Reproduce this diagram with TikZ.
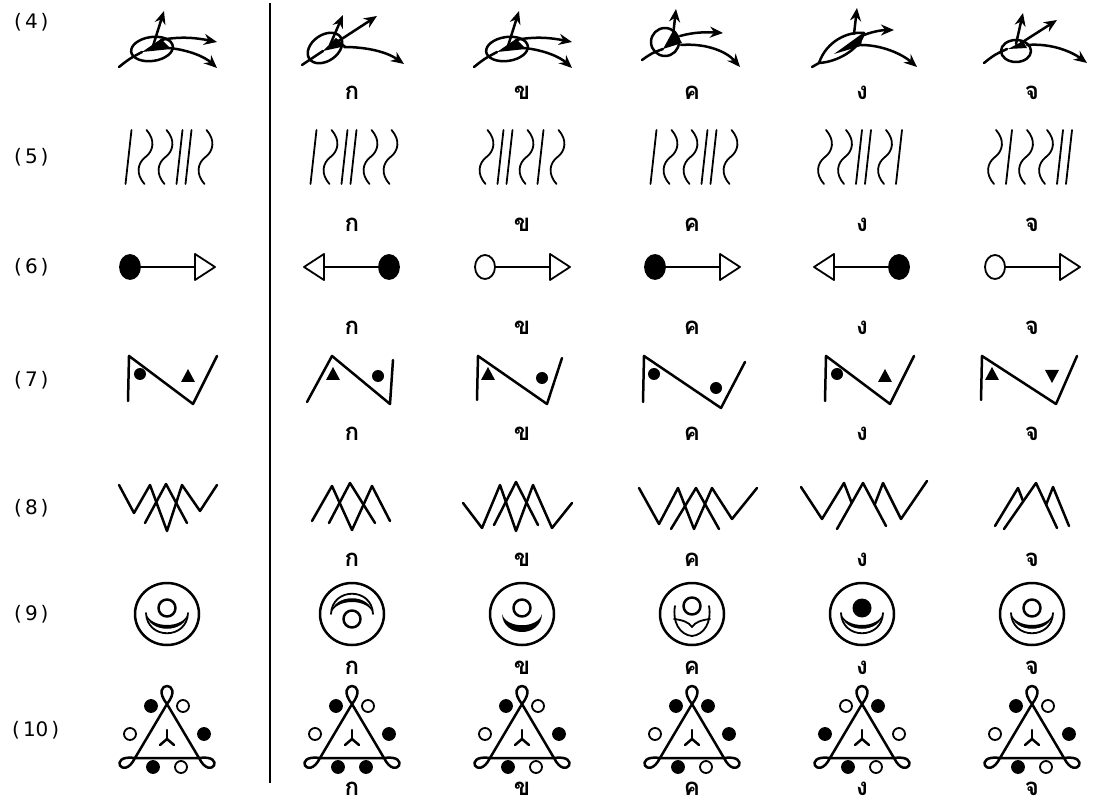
\documentclass[tikz,border=0pt]{standalone}
\usepackage{fontspec}
\usetikzlibrary{arrows.meta}
\newfontfamily\thaifont[Script=Thai]{Loma}
\newfontfamily\numfont{DejaVu Sans}
\tikzset{
  ln/.style={line width=2.5pt,line cap=round,line join=round},
  thn/.style={line width=1.8pt,line cap=round,line join=round},
  arr/.style={ln,-{Stealth[length=13pt,width=11pt]}},
  thailbl/.style={font=\thaifont\bfseries\fontsize{24}{24}\selectfont,inner sep=0pt},
  rowlbl/.style={font=\numfont\fontsize{20}{20}\selectfont,inner sep=0pt,anchor=west},
  % ---------- row 4
  r4base/.pic={
    \fill (-25,-12) -- (-6,1) -- (4,-9) -- cycle;
    \draw[ln] (-48,-27) .. controls (-38,-19) .. (-25,-12);
    \draw[ln,rotate around={8:(-15,-9)}] (-15,-9) ellipse [x radius=21,y radius=12];
    \draw[arr] (-14,-6) -- (-3,29);
    \draw[arr] (-6,0) .. controls (14,4) and (30,2) .. (50,-2);
    \draw[arr] (2,-8) .. controls (22,-10) and (38,-17) .. (50,-28);
  },
  r4ka/.pic={
    \fill (-29,-11) -- (-16,2) -- (-6,-6) -- cycle;
    \draw[ln] (-50,-25) .. controls (-40,-18) .. (-29,-11);
    \draw[ln,rotate around={35:(-27,-8)}] (-27,-8) ellipse [x radius=19,y radius=13];
    \draw[arr] (-22,-5) -- (-9,25);
    \draw[arr] (-18,-4) -- (25,24);
    \draw[arr] (-8,-7) .. controls (15,-7) and (35,-12) .. (52,-24);
  },
  r4kho/.pic={
    \fill (-29,-9) -- (-18,11) -- (-10,-3) -- cycle;
    \draw[ln] (-50,-20) .. controls (-40,-13) .. (-29,-9);
    \draw[ln] (-27,-2) circle (14);
    \draw[arr] (-19,4) -- (-16,31);
    \draw[arr] (-12,4) .. controls (2,8) and (15,8) .. (31,7);
    \draw[arr] (-11,-5) .. controls (15,-3) and (35,-12) .. (48,-27);
  },
  r4ngo/.pic={
    \fill (-28,-14) -- (1,7) -- (-1,-6) -- cycle;
    \draw[ln] (-50,-27) -- (-43,-23);
    \draw[ln] (-43,-23) .. controls (-36,-2) and (-15,9) .. (2,7) .. controls (-3,-10) and (-25,-22) .. (-43,-23);
    \draw[arr] (-8,6) -- (-5,32);
    \draw[arr] (2,5) .. controls (12,9) and (22,10) .. (32,10);
    \draw[arr] (-1,-5) .. controls (20,-5) and (40,-14) .. (55,-27);
  },
  r4cho/.pic={
    \fill (-24,-9) -- (-9,-1) -- (-5,-8) -- cycle;
    \draw[ln] (-48,-23) .. controls (-38,-15) .. (-25,-9);
    \draw[ln] (-16,-11) ellipse [x radius=15,y radius=11];
    \draw[arr] (-16,-4) -- (-9,27);
    \draw[arr] (-11,-3) -- (25,20);
    \draw[arr] (-5,-5) .. controls (20,-3) and (40,-12) .. (55,-23);
  },
  % ---------- row 5 strokes
  sL/.pic={\draw[thn] (-3,-27) -- (3,27);},
  sS/.pic={\draw[thn] (1,27) .. controls (10,17) and (8,6) .. (0,0) .. controls (-8,-6) and (-10,-17) .. (-1,-27);},
  % ---------- row 6
  r6f/.pic={
    \draw[thn] (-27,0) -- (28,0);
    \filldraw[thn] (-37,0) ellipse [x radius=10,y radius=12];
    \draw[thn,fill=white] (28,-13) -- (48,0) -- (28,13) -- cycle;
  },
  r6o/.pic={
    \draw[thn] (-27,0) -- (28,0);
    \draw[thn,fill=white] (-37,0) ellipse [x radius=10,y radius=12];
    \draw[thn,fill=white] (28,-13) -- (48,0) -- (28,13) -- cycle;
  },
  % ---------- row 7
  tri/.pic={\fill (-7,-6) -- (7,-6) -- (0,7) -- cycle;},
  r7base/.pic={
    \draw[ln] (-44,-21) -- (-43,24) -- (21,-24) -- (45,24);
    \fill (-32,6) circle (6);
    \pic at (16,4) {tri};
  },
  r7ka/.pic={
    \draw[ln] (-45,-22) -- (-20,24) -- (38,-24) -- (41,20);
    \pic at (-19,6) {tri};
    \fill (26,4) circle (6);
  },
  r7kho/.pic={
    \draw[ln] (-45,-20) -- (-44,24) -- (25,-24) -- (40,22);
    \pic at (-34,6) {tri};
    \fill (20,2) circle (6);
  },
  r7khoo/.pic={
    \draw[ln] (-51,-22) -- (-50,24) -- (27,-28) -- (51,18);
    \fill (-40,6) circle (6);
    \fill (22,-8) circle (6);
  },
  r7cho/.pic={
    \draw[ln] (-48,-20) -- (-47,24) -- (27,-24) -- (48,24);
    \pic at (-37,6) {tri};
    \pic[yscale=-1] at (23,4) {tri};
  },
  % ---------- row 8 (zigzags)
  r8base/.pic={
    \draw[ln] (-48,23) -- (-33,-5) -- (-17,23) -- (0,-23) -- (15,23) -- (33,-3) -- (50,23);
    \draw[ln] (-22,-15) -- (-1,24) -- (20,-15);
  },
  r8ka/.pic={
    \draw[ln] (-40,-13) -- (-20,22) -- (0,-22) -- (20,22) -- (38,-13);
    \draw[ln] (-23,-15) -- (-2,25) -- (23,-15);
  },
  r8kho/.pic={
    \draw[ln] (-55,5) -- (-36,-20) -- (-18,23) -- (-2,-23) -- (15,23) -- (34,-20) -- (54,5);
    \draw[ln] (-24,-17) -- (-2,26) -- (20,-17);
  },
  r8khoo/.pic={
    \draw[ln] (-59,20) -- (-39,-16) -- (-20,20) -- (-4,-21) -- (14,20) -- (34,-11) -- (59,20);
    \draw[ln] (-27,-21) -- (-2,20) -- (21,-21);
  },
  r8ngo/.pic={
    \draw[ln] (-63,21) -- (-42,-11) -- (-20,25) -- (-12.3,5);
    \draw[ln] (10.6,3.3) -- (19,25) -- (37,-11) -- (63,27);
    \draw[ln] (-27,-21) -- (-1,25) -- (22,-18);
  },
  r8cho/.pic={
    \draw[ln] (-37,-18) -- (-14,20) -- (-8.8,6.6);
    \draw[ln] (14.1,3.3) -- (21,21) -- (37,-18);
    \draw[ln] (-28,-21) -- (4,25) -- (25,-20);
  },
  % ---------- row 9
  r9out/.pic={\draw[ln] (0,0) ellipse [x radius=32,y radius=31];},
  cresD/.pic={
    \fill (-21,-1) .. controls (-19,-22) and (19,-22) .. (21,-1) .. controls (17,-17) and (-17,-17) .. (-21,-1) -- cycle;
    \draw[thn] (-21,-1) .. controls (-20,-28) and (20,-28) .. (21,-1);
  },
  cresF/.pic={
    \fill (-20,-2) .. controls (-19,-26) and (19,-26) .. (20,-2) .. controls (16,-17) and (-16,-17) .. (-20,-2) -- cycle;
  },
  % ---------- row 10
  pics/r10/.style n args={6}{code={
    \draw[ln] (0,26) .. controls (19,50) and (-19,50) .. (0,26)
      -- (32,-28) .. controls (44,-52) and (60,-24) .. (32,-28)
      -- (-32,-28) .. controls (-60,-24) and (-44,-52) .. (-32,-28) -- cycle;
    \draw[ln] (0,-9) -- (0,0);
    \draw[ln] (0,-9) -- (-7,-15);
    \draw[ln] (0,-9) -- (7,-15);
    \draw[thn,fill=#1] (-16,24) circle (6);
    \draw[thn,fill=#2] (16,24) circle (6);
    \draw[thn,fill=#3] (-37,-4) circle (6);
    \draw[thn,fill=#4] (37,-4) circle (6);
    \draw[thn,fill=#5] (-14,-37) circle (6);
    \draw[thn,fill=#6] (14,-37) circle (6);
  }},
}
\begin{document}
\begin{tikzpicture}[x=1pt,y=1pt]
\useasboundingbox (0,0) rectangle (1098,807);
% divider
\coordinate (divtop) at (270,804);
\coordinate (divbot) at (270,24);
\draw[line width=1.5pt] (divtop) -- (divbot);
% row labels
\node[rowlbl] (n4) at (14,785) {(\kern3pt4\kern3pt)};
\node[rowlbl] (n5) at (14,650) {(\kern3pt5\kern3pt)};
\node[rowlbl] (n6) at (14,540) {(\kern3pt6\kern3pt)};
\node[rowlbl] (n7) at (14,427) {(\kern3pt7\kern3pt)};
\node[rowlbl] (n8) at (14,299) {(\kern3pt8\kern3pt)};
\node[rowlbl] (n9) at (14,193) {(\kern3pt9\kern3pt)};
\node[rowlbl] (n10) at (12,77) {(\kern3pt10\kern3pt)};
% thai labels
\foreach \r/\y in {4/714,5/582,6/479,7/373,8/247,9/139,10/18}{
  \node[thailbl] (k\r a) at (352,\y) {ก};
  \node[thailbl] (k\r b) at (522,\y) {ข};
  \node[thailbl] (k\r c) at (692,\y) {ค};
  \node[thailbl] (k\r d) at (862,\y) {ง};
  \node[thailbl] (k\r e) at (1032,\y) {จ};
}
% ---- row 4
\pic at (167,767) {r4base};
\pic at (352,767) {r4ka};
\pic at (522,767) {r4base};
\pic at (692,767) {r4kho};
\pic at (862,767) {r4ngo};
\pic at (1032,767) {r4cho};
% ---- row 5
\foreach \x/\t in {-38.5/sL,-21.5/sS,-1.5/sS,12.5/sL,21.5/sL,38.5/sS}{\pic at (167+\x,650) {\t};}
\foreach \x/\t in {-38.5/sL,-21.5/sS,-7.5/sL,1.5/sL,18.5/sS,38.5/sS}{\pic at (352+\x,650) {\t};}
\foreach \x/\t in {-35.5/sS,-21.5/sL,-12.5/sL,4.5/sS,18.5/sL,35.5/sS}{\pic at (522+\x,650) {\t};}
\foreach \x/\t in {-38.5/sL,-21.5/sS,-1.5/sS,12.5/sL,21.5/sL,38.5/sS}{\pic at (692+\x,650) {\t};}
\foreach \x/\t in {-37/sS,-17/sS,-3/sL,6/sL,23/sS,37/sL}{\pic at (862+\x,650) {\t};}
\foreach \x/\t in {-37/sS,-23/sL,-6/sS,14/sS,28/sL,37/sL}{\pic at (1032+\x,650) {\t};}
% ---- row 6
\pic at (167,540) {r6f};
\pic[xscale=-1] at (352,540) {r6f};
\pic at (522,540) {r6o};
\pic at (692,540) {r6f};
\pic[xscale=-1] at (862,540) {r6f};
\pic at (1032,540) {r6o};
% ---- row 7
\pic at (172,427) {r7base};
\pic at (352,427) {r7ka};
\pic at (522,427) {r7kho};
\pic at (694,427) {r7khoo};
\pic at (869,427) {r7base};
\pic at (1029,427) {r7cho};
% ---- row 8
\pic at (167,299) {r8base};
\pic at (352,299) {r8ka};
\pic at (518,299) {r8kho};
\pic at (698,299) {r8khoo};
\pic at (864,299) {r8ngo};
\pic at (1032,299) {r8cho};
% ---- row 9
\pic at (167,193) {r9out}; \draw[ln] (167,199) circle (8.5); \pic at (167,195) {cresD};
\pic at (352,193) {r9out}; \draw[ln] (352,188) circle (8.5); \pic[yscale=-1] at (352,192) {cresD};
\pic at (522,193) {r9out}; \draw[ln] (522,199) circle (8.5); \pic at (522,195) {cresF};
\pic at (692,193) {r9out}; \draw[ln] (692,201) circle (8.5);
  \draw[thn] (675,201) .. controls (672,185) and (680,172) .. (692,171) .. controls (704,172) and (712,185) .. (709,201);
  \draw[thn] (674,188) .. controls (682,187) and (689,185) .. (692,180) .. controls (695,185) and (702,187) .. (710,188);
\pic at (862,193) {r9out}; \fill (862,199) circle (9.5); \pic at (862,195) {cresD};
\pic at (1032,193) {r9out}; \draw[ln] (1032,199) circle (8.5); \pic at (1032,195) {cresD};
% ---- row 10
\pic at (167,77) {r10={black}{white}{white}{black}{black}{white}};
\pic at (352,77) {r10={black}{white}{white}{black}{black}{black}};
\pic at (522,77) {r10={black}{white}{white}{black}{black}{white}};
\pic at (692,77) {r10={black}{black}{white}{black}{black}{white}};
\pic at (862,77) {r10={white}{black}{black}{white}{black}{white}};
\pic at (1032,77) {r10={black}{white}{white}{black}{black}{white}};
\end{tikzpicture}
\end{document}
